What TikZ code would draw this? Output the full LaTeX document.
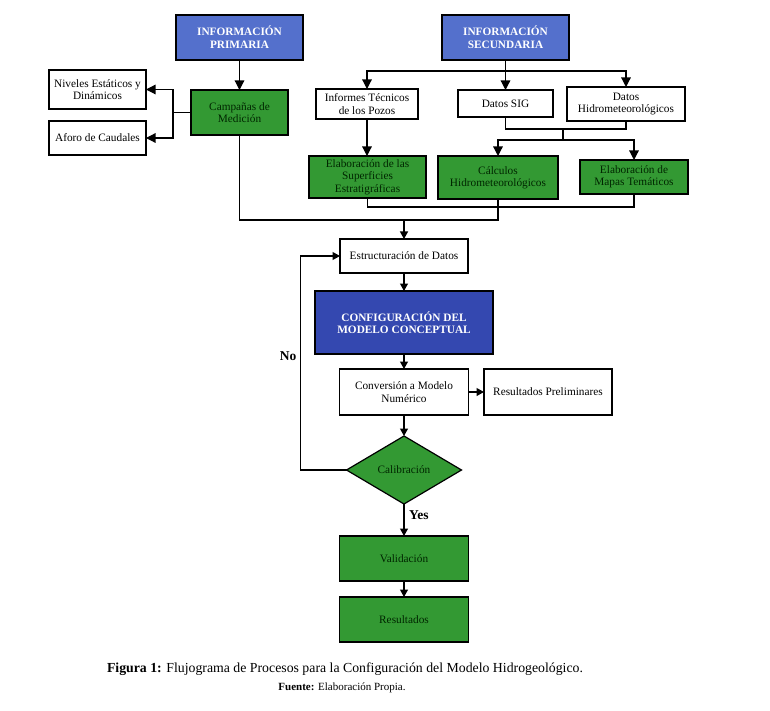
\documentclass[tikz,border=0pt]{standalone}
\usepackage{fontspec}
\setmainfont{Liberation Serif}
\usetikzlibrary{shapes.geometric,arrows.meta}
\definecolor{bluelight}{RGB}{84,112,204}
\definecolor{bluedark}{RGB}{52,72,176}
\definecolor{boxgreen}{RGB}{51,153,51}
\begin{document}
\begin{tikzpicture}[x=1pt,y=-1pt,
  every node/.style={inner sep=0pt,outer sep=0pt,align=center,
    font=\fontsize{11.3}{12.3}\selectfont},
  box/.style={draw=black,line width=1.2pt,fill=white},
  gbox/.style={box,fill=boxgreen,text=black!85!green},
  bbox/.style={box,fill=bluelight,text=white,font=\fontsize{11.3}{13}\selectfont\bfseries},
  dbox/.style={box,fill=bluedark,text=white,font=\fontsize{11.3}{12.5}\selectfont\bfseries},
  lnk/.style={line width=1.2pt},
  arr/.style={lnk,-{Triangle[length=9.5pt,width=9.5pt]}},
  arrs/.style={lnk,-{Triangle[length=7.5pt,width=8pt]}},
  lbl/.style={font=\fontsize{13.5}{15}\selectfont\bfseries}
]
\useasboundingbox[fill=white] (0,0) rectangle (770,711);

% top row
\node[bbox,minimum width=127pt,minimum height=45pt] (prim) at (239.5,37.5) {INFORMACIÓN\\PRIMARIA};
\node[bbox,minimum width=127pt,minimum height=45pt] (sec) at (505.5,37.5) {INFORMACIÓN\\SECUNDARIA};

% left branch
\node[box,minimum width=97pt,minimum height=39pt] (niv) at (97.5,89.5) {Niveles Estáticos y\\Dinámicos};
\node[box,minimum width=97pt,minimum height=34pt] (afo) at (97.5,138) {Aforo de Caudales};
\node[gbox,minimum width=97pt,minimum height=45pt] (camp) at (239.5,112.5) {Campañas de\\Medición};

% secondary branch
\node[box,minimum width=102pt,minimum height=30pt] (inf) at (367,104) {Informes Técnicos\\de los Pozos};
\node[box,minimum width=95pt,minimum height=27pt] (sig) at (505.5,103.5) {Datos SIG};
\node[box,minimum width=118pt,minimum height=34pt] (hid) at (626,104) {Datos\\Hidrometeorológicos};
\node[gbox,minimum width=117pt,minimum height=42pt] (sup) at (367.5,177) {Elaboración de las\\Superficies\\Estratigráficas};
\node[gbox,minimum width=120pt,minimum height=43pt] (cal) at (498,177.5) {Cálculos\\Hidrometeorológicos};
\node[gbox,minimum width=108pt,minimum height=34pt] (map) at (634,177) {Elaboración de\\Mapas Temáticos};

% central column
\node[box,minimum width=128pt,minimum height=34pt] (est) at (404,256) {Estructuración de Datos};
\node[dbox,minimum width=178pt,minimum height=63pt] (conf) at (404,322.5) {CONFIGURACIÓN DEL\\MODELO CONCEPTUAL};
\node[box,minimum width=129pt,minimum height=46pt] (conv) at (404,392) {Conversión a Modelo\\Numérico};
\node[box,minimum width=128pt,minimum height=46pt] (pre) at (548,392) {Resultados Preliminares};
\node[diamond,draw=black,line width=1.2pt,fill=boxgreen,text=black!85!green,
  minimum width=115pt,minimum height=68pt] (dia) at (404,470) {Calibración};
\node[gbox,minimum width=129pt,minimum height=45pt] (val) at (404,558.5) {Validación};
\node[gbox,minimum width=129pt,minimum height=45pt] (res) at (404,619.5) {Resultados};

% coordinates
\coordinate (sj) at (505.5,71);
\coordinate (cl) at (173,112.5);
\coordinate (m1) at (404,220);
\coordinate (j2) at (563,129);
\coordinate (j3) at (563,140);

% connectors
\draw[arr] (prim.south) -- (prim.south |- camp.north);
\draw[lnk] (camp.west) -- (cl);
\draw[arr] (cl) |- (niv.east);
\draw[arr] (cl) |- (afo.east);

\draw[arr] (sec.south) -- (sig.north);
\draw[arr] (sj) -| (inf.north);
\draw[arr] (sj) -| (hid.north);
\draw[arr] (inf.south) -- (inf.south |- sup.north);
\draw[lnk] (sig.south) -- ++(0,12) -| (hid.south);
\draw[lnk] (j2) -- (j3);
\draw[arr] (j3) -| (cal.north);
\draw[arr] (j3) -| (map.north);

\draw[lnk] (sup.south) -- ++(0,9) -| (map.south);
\draw[lnk] (camp.south) |- (m1);
\draw[lnk] (cal.south) |- (m1);
\draw[arrs] (m1) -- (est.north);

\draw[arrs] (est.south) -- (conf.north);
\draw[arrs] (conf.south) -- (conv.north);
\draw[arrs] (conv.east) -- (pre.west);
\draw[arrs] (conv.south) -- (dia.north);
\draw[arrs] (dia.south) -- node[lbl,right=5pt,pos=0.35] (yes) {Yes} (val.north);
\draw[arrs] (val.south) -- (res.north);
\draw[arrs] (dia.west) -- ++(-46,0) |- (est.west);
\node[lbl] (no) at (288,356) {No};

% caption
\node[font=\fontsize{13.8}{15}\selectfont] (cap) at (345,669) {\textbf{Figura 1:} Flujograma de Procesos para la Configuración del Modelo Hidrogeológico.};
\node[font=\fontsize{11}{12}\selectfont] (fue) at (342,688) {\textbf{Fuente:} Elaboración Propia.};
\end{tikzpicture}
\end{document}
